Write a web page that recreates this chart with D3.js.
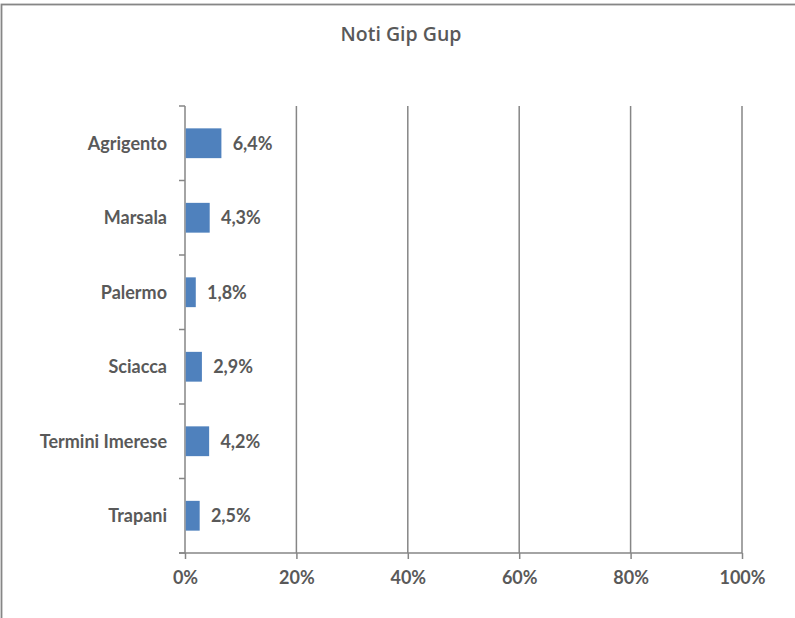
<!DOCTYPE html>
<html>
<head>
<meta charset="utf-8">
<script src="https://cdn.jsdelivr.net/npm/d3@7"></script>
<style>
  html, body { margin: 0; padding: 0; background: #fff; }
  svg { display: block; }
  text { font-family: Lato, "Open Sans", sans-serif; fill: #595959; }
</style>
</head>
<body>
<svg id="chart" width="795" height="618"></svg>
<script>
// Chart data
const title = "Noti Gip Gup";
const categories = ["Agrigento", "Marsala", "Palermo", "Sciacca", "Termini Imerese", "Trapani"];
const values = [6.4, 4.3, 1.8, 2.9, 4.2, 2.5];
const xTicks = [0, 20, 40, 60, 80, 100];

const svg = d3.select("#chart");
const grey = "#868686";
const plot = { left: 185, right: 742, top: 106, bottom: 553 };
const labelFont = "18px";

// Outer chart frame (left and top edges visible in the window)
svg.append("rect")
  .attr("x", 1.5).attr("y", 4.5)
  .attr("width", 900).attr("height", 800)
  .attr("fill", "none").attr("stroke", grey).attr("stroke-width", 1.8);

svg.append("text")
  .attr("x", 401).attr("y", 41)
  .attr("text-anchor", "middle")
  .style("font-family", "'Open Sans', Lato, sans-serif")
  .style("font-size", "19.5px")
  .style("font-weight", "600")
  .text(title);

const x = d3.scaleLinear().domain([0, 100]).range([plot.left, plot.right]);
const y = d3.scaleBand().domain(categories).range([plot.top, plot.bottom]).paddingInner(0.6).paddingOuter(0.3);
const yBands = d3.scaleBand().domain(categories).range([plot.top, plot.bottom]);

// Vertical gridlines
svg.append("g").selectAll("line")
  .data(xTicks.filter(d => d > 0))
  .join("line")
  .attr("x1", d => x(d)).attr("x2", d => x(d))
  .attr("y1", plot.top).attr("y2", plot.bottom)
  .attr("stroke", grey).attr("stroke-width", 1.5);

// Bottom axis
const xAxis = svg.append("g")
  .attr("transform", `translate(0,${plot.bottom})`)
  .call(d3.axisBottom(x).tickValues(xTicks).tickFormat(d => d + "%").tickSize(6).tickPadding(12).tickSizeOuter(0));
xAxis.select(".domain").remove();
xAxis.selectAll(".tick line").attr("stroke", grey).attr("stroke-width", 1.5);
xAxis.selectAll(".tick text")
  .style("font-size", labelFont).style("font-weight", "bold")
  .attr("fill", "#595959");
svg.append("line")
  .attr("x1", plot.left - 6).attr("x2", plot.right)
  .attr("y1", plot.bottom).attr("y2", plot.bottom)
  .attr("stroke", grey).attr("stroke-width", 1.5);

// Left axis: ticks at category boundaries
const boundaries = categories.map(c => yBands(c)).concat([plot.bottom]);
svg.append("line")
  .attr("x1", plot.left).attr("x2", plot.left)
  .attr("y1", plot.top).attr("y2", plot.bottom)
  .attr("stroke", grey).attr("stroke-width", 1.5);
svg.append("g").selectAll("line")
  .data(boundaries)
  .join("line")
  .attr("x1", plot.left - 6).attr("x2", plot.left)
  .attr("y1", d => d).attr("y2", d => d)
  .attr("stroke", grey).attr("stroke-width", 1.5);

// Category labels
svg.append("g").selectAll("text")
  .data(categories)
  .join("text")
  .attr("x", 167)
  .attr("y", d => yBands(d) + yBands.bandwidth() / 2)
  .attr("dy", "0.35em")
  .attr("text-anchor", "end")
  .style("font-size", labelFont).style("font-weight", "bold")
  .text(d => d);

// Bars
const rows = categories.map((c, i) => ({ c, v: values[i] }));
svg.append("g").selectAll("rect")
  .data(rows)
  .join("rect")
  .attr("x", x(0) + 0.75)
  .attr("y", d => y(d.c))
  .attr("width", d => x(d.v) - x(0))
  .attr("height", y.bandwidth())
  .attr("fill", "#4F81BD");

// Value labels
svg.append("g").selectAll("text")
  .data(rows)
  .join("text")
  .attr("x", d => x(d.v) + 12)
  .attr("y", d => y(d.c) + y.bandwidth() / 2)
  .attr("dy", "0.35em")
  .style("font-size", labelFont).style("font-weight", "bold")
  .text(d => d.v.toFixed(1).replace(".", ",") + "%");
</script>
</body>
</html>
